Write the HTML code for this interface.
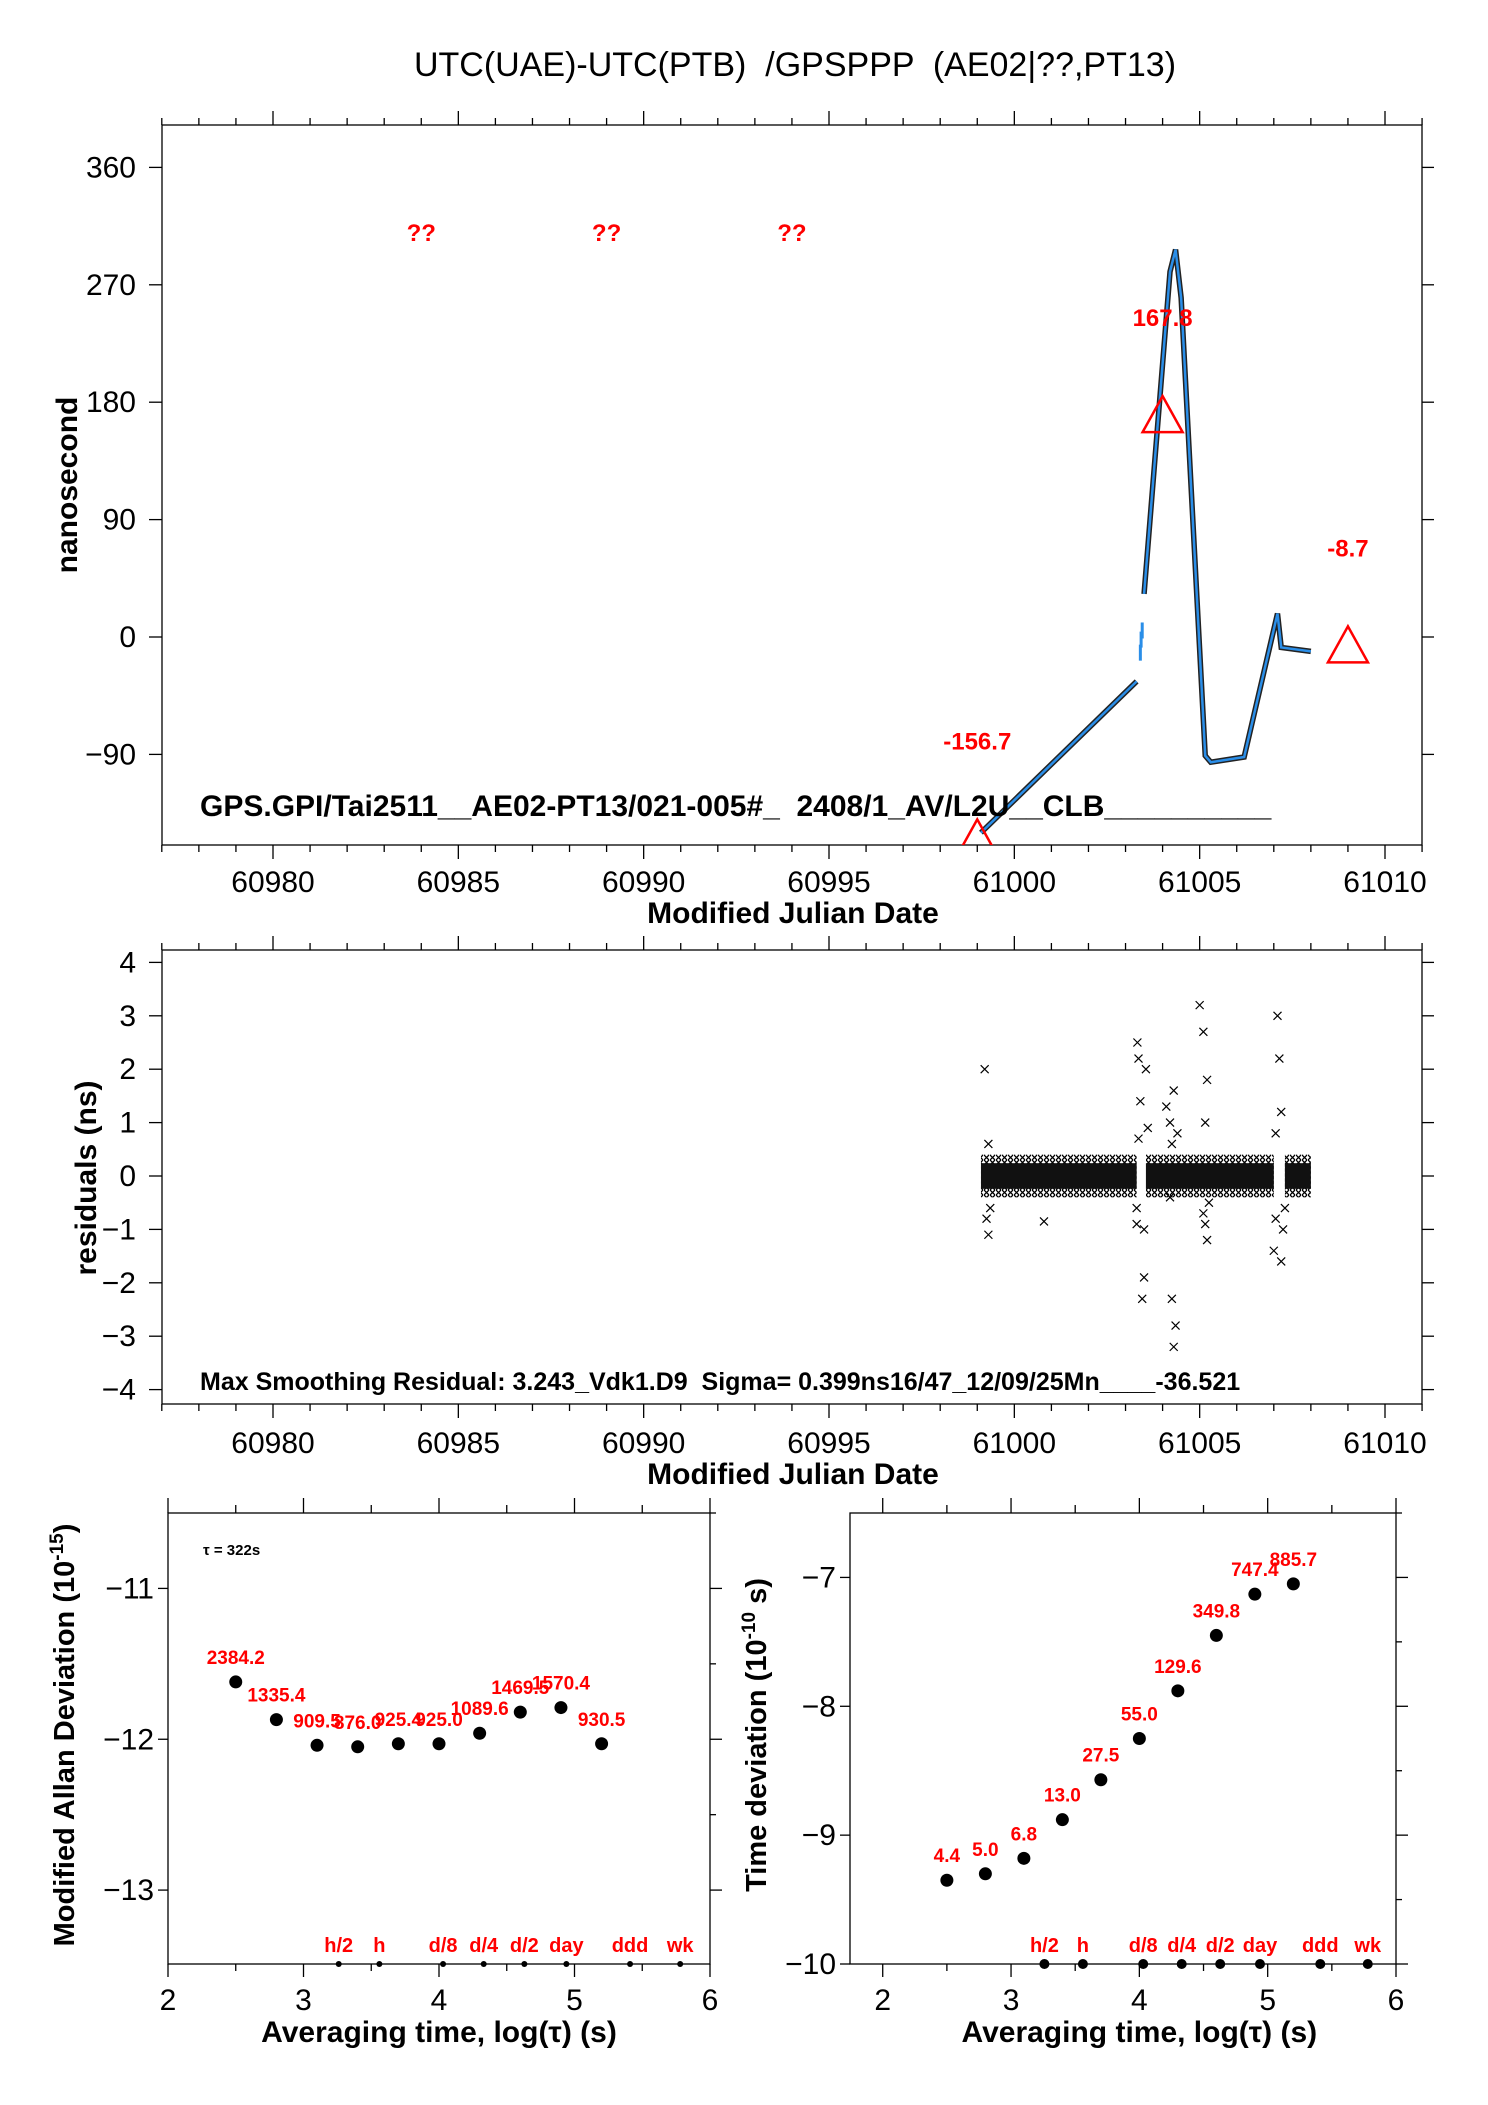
<!DOCTYPE html>
<html><head><meta charset="utf-8"><style>
html,body{margin:0;padding:0;background:#fff;}
svg{display:block;font-family:"Liberation Sans",sans-serif;}
text{white-space:pre;}
</style></head><body>
<svg id="svg" width="1488" height="2105" viewBox="0 0 1488 2105" xmlns="http://www.w3.org/2000/svg" xml:space="preserve">
<defs>
<pattern id="xpat" width="6" height="5" patternUnits="userSpaceOnUse">
<rect width="6" height="5" fill="#fff"/>
<path d="M0,0L5,5M0,5L5,0" stroke="#000" stroke-width="1.3"/>
</pattern>
</defs>
<g id="root">
<text x="795" y="76" font-size="34" text-anchor="middle">UTC(UAE)-UTC(PTB)  /GPSPPP  (AE02|??,PT13)</text>
<g id="g1"></g>
<g id="g2"></g>
<g id="g3"></g>
<g id="g4"></g>
</g>
</svg>
<script>
// ---- Panel 1 data ----
const p1Mjd = [60999.1,61003.3,null,61003.5,61004.2,61004.35,61004.5,61005.15,61005.3,61006.2,61007.1,61007.2,61008.0];
const p1Ns  = [-150,-34,null,33,280,297,260,-91,-96,-92,18,-8,-11];
const triMjd = [60999.0,61004.0,61009.0];
const triNs = [-156.7,167.8,-8.7];
const triLbl = ["-156.7","167.8","-8.7"];
const qMjd = [60984,60989,60994];
const p1YTicks = [360,270,180,90,0,-90];
const xTicks = [60980,60985,60990,60995,61000,61005,61010];
// ---- Panel 2 data ----
const bandStart = [60999.1,61003.55,61007.3];
const bandEnd   = [61003.3,61007.0,61008.0];
const bandHalf  = [0.4,0.4,0.4];
const outT = [60999.2,60999.25,60999.3,60999.3,60999.35,61000.8,61003.3,61003.32,61003.35,61003.4,61003.45,61003.5,61003.5,61003.55,61003.6,61004.1,61004.2,61004.25,61004.3,61004.3,61004.35,61004.4,61005.0,61005.1,61005.15,61005.2,61005.2,61005.25,61007.0,61007.05,61007.1,61007.15,61007.2,61007.25,61007.3,61003.3,61003.35,61004.2,61004.25,61005.1,61005.15,61007.05,61007.2];
const outV = [2.0,-0.8,-1.1,0.6,-0.6,-0.85,-0.9,2.5,2.2,1.4,-2.3,-1.9,-1.0,2.0,0.9,1.3,-0.4,-2.3,-3.2,1.6,-2.8,0.8,3.2,2.7,1.0,-1.2,1.8,-0.5,-1.4,-0.8,3.0,2.2,1.2,-1.0,-0.6,-0.6,0.7,1.0,0.6,-0.7,-0.9,0.8,-1.6];
const p2YTicks = [4,3,2,1,0,-1,-2,-3,-4];
// ---- Panel 3 data ----
const logTau = [2.5,2.8,3.1,3.4,3.7,4.0,4.3,4.6,4.9,5.2];
const mdev = [-11.62,-11.87,-12.04,-12.05,-12.03,-12.03,-11.96,-11.82,-11.79,-12.03];
const mdevLbl = ["2384.2","1335.4","909.5","876.0","925.4","925.0","1089.6","1469.5","1570.4","930.5"];
const markLbl = ["h/2","h","d/8","d/4","d/2","day","ddd","wk"];
const markPos = [3.26,3.56,4.03,4.33,4.63,4.94,5.41,5.78];
const p3YTicks = [-11,-12,-13];
// ---- Panel 4 data ----
const tdev = [-9.35,-9.30,-9.18,-8.88,-8.57,-8.25,-7.88,-7.45,-7.13,-7.05];
const tdevLbl = ["4.4","5.0","6.8","13.0","27.5","55.0","129.6","349.8","747.4","885.7"];
const p4YTicks = [-7,-8,-9,-10];
const logTicks = [2,3,4,5,6];

const NS="http://www.w3.org/2000/svg";
function el(parent,tag,attrs,text){const e=document.createElementNS(NS,tag);for(const k in attrs)e.setAttribute(k,attrs[k]);if(text!=null)e.textContent=text;parent.appendChild(e);return e;}
function lin(d0,d1,r0,r1){return v=>r0+(v-d0)/(d1-d0)*(r1-r0);}

function frame(g,L,T,R,B){
  const r=el(g,'rect',{x:L,y:T,width:R-L,height:B-T,fill:'none',stroke:'#000','stroke-width':1.3});
  
  
}
function tick(g,x1,y1,x2,y2){const t=el(g,'line',{x1,y1,x2,y2,stroke:'#000','stroke-width':1.3});
  
  }

const XM = lin(60980,61010,273,1385);

// ===== Panel 1 =====
(function(){
  const g=document.getElementById('g1');
  const L=162,R=1422,T=125,B=845;
  const X=XM, Y=lin(0,90,637,519.6);
  frame(g,L,T,R,B);
  for(let d=60977;d<=61011;d++){const x=X(d);const mj=d%5===0;
    tick(g,x,T,x,T-(mj?14:7));tick(g,x,B,x,B+(mj?14:7));}
  xTicks.forEach(v=>{const t=el(g,'text',{x:X(v),y:892,'font-size':30,'text-anchor':'middle'},String(v));
    
    });
  p1YTicks.forEach(v=>{const y=Y(v);tick(g,L,y,L-13,y);tick(g,R,y,R+12,y);
    const t=el(g,'text',{x:136,y:y+10,'font-size':30,'text-anchor':'end'},String(v).replace('-','\u2212'));
    
    });
  const xt=el(g,'text',{x:793,y:923,'font-size':30,'font-weight':'bold','text-anchor':'middle'},'Modified Julian Date');
  
  
  const yt=el(g,'text',{x:0,y:0,'font-size':30,'font-weight':'bold','text-anchor':'middle',transform:'translate(77,485) rotate(-90)'},'nanosecond');
  
  
  let segs=[],cur=[];
  p1Mjd.forEach((m,i)=>{if(m===null){segs.push(cur);cur=[];}else cur.push(X(m)+','+Y(p1Ns[i]));});
  segs.push(cur);
  const cp=el(g,'clipPath',{id:'c1'});el(cp,'rect',{x:L,y:T,width:R-L,height:B-T});
  segs.forEach(s=>{
    const a=el(g,'polyline',{points:s.join(' '),fill:'none',stroke:'#222','stroke-width':5.5,'clip-path':'url(#c1)'});
    
    
    const b=el(g,'polyline',{points:s.join(' '),fill:'none',stroke:'#2a8ee8','stroke-width':2.5,'clip-path':'url(#c1)'});
    
    
  });
  [[61003.4,-12],[61003.42,-2],[61003.45,5]].forEach(p=>{const c=el(g,'line',{x1:X(p[0]),y1:Y(p[1])-8,x2:X(p[0]),y2:Y(p[1])+8,stroke:'#2a8ee8','stroke-width':3});
    
    });
  triMjd.forEach((m,i)=>{const x=X(m),y=Y(triNs[i]);
    const tr=el(g,'polygon',{points:`${x},${y-22} ${x-20},${y+14} ${x+20},${y+14}`,fill:'none',stroke:'#f00','stroke-width':2.5,'clip-path':'url(#c1)'});
    
    
    const t=el(g,'text',{x:x,y:y-92,'font-size':24,'font-weight':'bold',fill:'#f00','text-anchor':'middle'},triLbl[i]);
    
    });
  qMjd.forEach(m=>{const t=el(g,'text',{x:X(m),y:241,'font-size':24,'font-weight':'bold',fill:'#f00','text-anchor':'middle'},'??');
    
    });
  const id=el(g,'text',{x:200,y:816,'font-size':30,'font-weight':'bold'},'GPS.GPI/Tai2511__AE02-PT13/021-005#_  2408/1_AV/L2U__CLB__________');
  
  
})();

// ===== Panel 2 =====
(function(){
  const g=document.getElementById('g2');
  const L=162,R=1422,T=950,B=1404;
  const X=XM, Y=lin(0,1,1176,1122.6);
  frame(g,L,T,R,B);
  for(let d=60977;d<=61011;d++){const x=X(d);const mj=d%5===0;
    tick(g,x,T,x,T-(mj?14:7));tick(g,x,B,x,B+(mj?14:7));}
  xTicks.forEach(v=>{const t=el(g,'text',{x:X(v),y:1453,'font-size':30,'text-anchor':'middle'},String(v));
    
    });
  p2YTicks.forEach(v=>{const y=Y(v);tick(g,L,y,L-13,y);tick(g,R,y,R+12,y);
    const t=el(g,'text',{x:136,y:y+10,'font-size':30,'text-anchor':'end'},String(v).replace('-','\u2212'));
    
    });
  const xt=el(g,'text',{x:793,y:1484,'font-size':30,'font-weight':'bold','text-anchor':'middle'},'Modified Julian Date');
  
  
  const yt=el(g,'text',{x:0,y:0,'font-size':30,'font-weight':'bold','text-anchor':'middle',transform:'translate(96,1178) rotate(-90)'},'residuals (ns)');
  
  
  bandStart.forEach((s,i)=>{const r=el(g,'rect',{x:X(s),y:Y(bandHalf[i]),width:X(bandEnd[i])-X(s),height:Y(-bandHalf[i])-Y(bandHalf[i]),fill:'url(#xpat)'});
    
    
    const r2=el(g,'rect',{x:X(s),y:Y(bandHalf[i]*0.6),width:X(bandEnd[i])-X(s),height:Y(-bandHalf[i]*0.6)-Y(bandHalf[i]*0.6),fill:'#111'});
    
    });
  outT.forEach((t,i)=>{const x=X(t),y=Y(outV[i]);
    const p=el(g,'path',{d:`M${x-4},${y-4}L${x+4},${y+4}M${x-4},${y+4}L${x+4},${y-4}`,stroke:'#000','stroke-width':1.2});
    
    });
  const s=el(g,'text',{x:200,y:1390,'font-size':25,'font-weight':'bold'},'Max Smoothing Residual: 3.243_Vdk1.D9  Sigma= 0.399ns16/47_12/09/25Mn____-36.521');
  
  
})();

// ===== Panels 3 & 4 =====
function devPanel(gid,L,R,x0,x1,yTop,yBot,vals,lbls,yticks,title,titleX,isLeft){
  const g=document.getElementById(gid);
  const T=1513,B=1964;
  const X=lin(x0,x1,L,R), Y=lin(yTop,yBot,T,B);
  frame(g,L,T,R,B);
  for(let v=2;v<=6;v+=0.5){const x=X(v);const mj=Number.isInteger(v);
    tick(g,x,T,x,T-(mj?15:8));tick(g,x,B,x,B+(mj?13:7));}
  logTicks.forEach(v=>{const t=el(g,'text',{x:X(v),y:2010,'font-size':30,'text-anchor':'middle'},String(v));
    
    });
  for(let v=Math.ceil(yBot*2)/2;v<=yTop;v+=0.5){const y=Y(v);const mj=Number.isInteger(v);
    tick(g,R,y,R+(mj?12:6),y);tick(g,L,y,L-(mj?10:0),y);}
  yticks.forEach(v=>{const t=el(g,'text',{x:L-14,y:Y(v)+10,'font-size':30,'text-anchor':'end'},String(v).replace('-','\u2212'));
    
    });
  const xt=el(g,'text',{x:(X(2)+X(6))/2,y:2042,'font-size':30,'font-weight':'bold','text-anchor':'middle'},'Averaging time, log(\u03c4) (s)');
  
  
  const yt=el(g,'text',{x:0,y:0,'font-size':29,'font-weight':'bold','text-anchor':'middle',transform:`translate(${titleX},1735) rotate(-90)`});
  yt.innerHTML=title;
  
  
  logTau.forEach((lt,i)=>{const x=X(lt),y=Y(vals[i]);
    const c=el(g,'circle',{cx:x,cy:y,r:6.5,fill:'#000'});
    
    
    const t=el(g,'text',{x:x,y:y-18,'font-size':19,'font-weight':'bold',fill:'#f00','text-anchor':'middle'},lbls[i]);
    
    });
  markPos.forEach((m,i)=>{const x=X(m);
    const c=el(g,'circle',{cx:x,cy:B,r:isLeft?3:5,fill:'#000'});
    
    
    const t=el(g,'text',{x:x,y:B-12,'font-size':20,'font-weight':'bold',fill:'#f00','text-anchor':'middle'},markLbl[i]);
    
    });
  return g;
}
const g3=devPanel('g3',168,710,2,6,-10.5,-13.49,mdev,mdevLbl,p3YTicks,'Modified Allan Deviation (10<tspan dy="-11" font-size="19">-15</tspan><tspan dy="11">)</tspan>',74,true);
const tau=el(g3,'text',{x:203,y:1555,'font-size':15,'font-weight':'bold'},'\u03c4 = 322s');


devPanel('g4',850,1396,1.745,6,-6.5,-10,tdev,tdevLbl,p4YTicks,'Time deviation (10<tspan dy="-11" font-size="19">-10</tspan><tspan dy="11"> s)</tspan>',766,false);
</script>
</body></html>
